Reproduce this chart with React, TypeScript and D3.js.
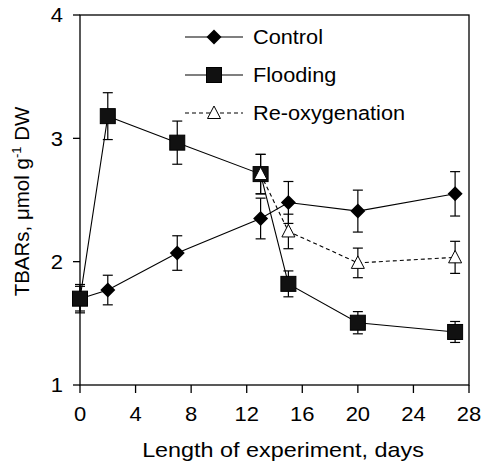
import React from "react";
import * as d3 from "d3";

const days = [0, 2, 7, 13, 15, 20, 27];
const controlVals = [1.7, 1.77, 2.07, 2.35, 2.48, 2.41, 2.55];
const controlErr = [0.1, 0.12, 0.14, 0.165, 0.17, 0.17, 0.18];
const floodVals = [1.7, 3.18, 2.965, 2.71, 1.82, 1.505, 1.43];
const floodErr = [0.115, 0.19, 0.175, 0.16, 0.105, 0.09, 0.085];
const reoxDays = [13, 15, 20, 27];
const reoxVals = [2.71, 2.245, 1.99, 2.035];
const reoxErr = [0.16, 0.14, 0.12, 0.13];
const xTicks = [0, 4, 8, 12, 16, 20, 24, 28];
const yTicks = [1, 2, 3, 4];
const legendLabels = ["Control", "Flooding", "Re-oxygenation"];

const W = 486, H = 463;
const L = 80, R = 469, T = 15, B = 385;
const FONT = "'Liberation Sans', Arial, sans-serif";

function SText(props: { x: number; y: number; sx: number; fs: number; anchor?: string; dy?: string; children: React.ReactNode }) {
  return (
    <text
      transform={`translate(${props.x},${props.y}) scale(${props.sx},1)`}
      textAnchor={props.anchor || "start"}
      dy={props.dy}
      fontSize={props.fs}
    >
      {props.children}
    </text>
  );
}

export default function App() {
  const x = d3.scaleLinear().domain([0, 28]).range([L, R]);
  const y = d3.scaleLinear().domain([1, 4]).range([B, T]);
  const line = d3.line<[number, number]>().x(d => x(d[0])).y(d => y(d[1]));

  const ctrl = days.map((d, i) => [d, controlVals[i]] as [number, number]);
  const fl = days.map((d, i) => [d, floodVals[i]] as [number, number]);
  const ro = reoxDays.map((d, i) => [d, reoxVals[i]] as [number, number]);

  const errBars = (xs: number[], vs: number[], es: number[], key: string) =>
    xs.map((d, i) => {
      const cx = x(d);
      const y1 = y(vs[i] + es[i]);
      const y2 = y(vs[i] - es[i]);
      return (
        <g key={key + i} stroke="#000" strokeWidth={1.2}>
          <line x1={cx} x2={cx} y1={y1} y2={y2} />
          <line x1={cx - 5} x2={cx + 5} y1={y1} y2={y1} />
          <line x1={cx - 5} x2={cx + 5} y1={y2} y2={y2} />
        </g>
      );
    });

  const diamond = (cx: number, cy: number, k: string) => (
    <path key={k} d={`M${cx},${cy - 7.5}L${cx + 7.5},${cy}L${cx},${cy + 7.5}L${cx - 7.5},${cy}Z`} fill="#000" />
  );
  const square = (cx: number, cy: number, k: string) => (
    <rect key={k} x={cx - 7.5} y={cy - 7.5} width={15} height={15} fill="#111" stroke="#000" />
  );
  const triangle = (cx: number, cy: number, k: string) => (
    <path key={k} d={`M${cx},${cy - 7}L${cx + 6.5},${cy + 5.5}L${cx - 6.5},${cy + 5.5}Z`} fill="#fff" stroke="#000" strokeWidth={1} />
  );

  const legY = [37, 75, 113];

  return (
    <svg width={W} height={H} style={{ position: "absolute", left: 0, top: 0, background: "#fff" }} fontFamily={FONT}>
      <rect x={0} y={0} width={W} height={H} fill="#fff" />
      <rect x={L} y={T} width={R - L} height={B - T} fill="none" stroke="#000" strokeWidth={1.3} />
      {yTicks.map(t => (
        <g key={"yt" + t}>
          <line x1={L - 7} x2={L} y1={y(t)} y2={y(t)} stroke="#000" strokeWidth={1.3} />
          <SText x={L - 17} y={y(t)} sx={1.1} fs={20} anchor="end" dy="0.36em">{t}</SText>
        </g>
      ))}
      {xTicks.map(t => (
        <g key={"xt" + t}>
          <line x1={x(t)} x2={x(t)} y1={B} y2={B + 8} stroke="#000" strokeWidth={1.3} />
          <SText x={x(t)} y={420.5} sx={1.1} fs={20} anchor="middle">{t}</SText>
        </g>
      ))}
      <SText x={283} y={457} sx={1.14} fs={20.5} anchor="middle">Length of experiment, days</SText>
      <text transform={`translate(28.5,201.5) rotate(-90)`} textAnchor="middle" fontSize={20.5}>
        TBARs, μmol g<tspan dy={-8} fontSize={13}>-1</tspan><tspan dy={8}> DW</tspan>
      </text>

      <path d={line(ctrl) || ""} fill="none" stroke="#000" strokeWidth={1.1} />
      <path d={line(fl) || ""} fill="none" stroke="#000" strokeWidth={1.1} />
      <path d={line(ro) || ""} fill="none" stroke="#000" strokeWidth={1.1} strokeDasharray="4,3" />

      {errBars(days, controlVals, controlErr, "ce")}
      {errBars(days, floodVals, floodErr, "fe")}
      {errBars(reoxDays, reoxVals, reoxErr, "re")}

      {ctrl.map((p, i) => diamond(x(p[0]), y(p[1]), "cd" + i))}
      {fl.map((p, i) => square(x(p[0]), y(p[1]), "fs" + i))}
      {ro.map((p, i) => triangle(x(p[0]), y(p[1]), "rt" + i))}

      {legendLabels.map((lab, i) => (
        <g key={"lg" + i}>
          <line x1={185} x2={243} y1={legY[i]} y2={legY[i]} stroke="#000" strokeWidth={1.1} strokeDasharray={i === 2 ? "4,3" : undefined} />
          {i === 0 ? diamond(214, legY[i], "ld") : i === 1 ? square(214, legY[i], "ls") : triangle(214, legY[i], "lt")}
          <SText x={253} y={legY[i]} sx={1.06} fs={20.5} dy="0.36em">{lab}</SText>
        </g>
      ))}
    </svg>
  );
}
